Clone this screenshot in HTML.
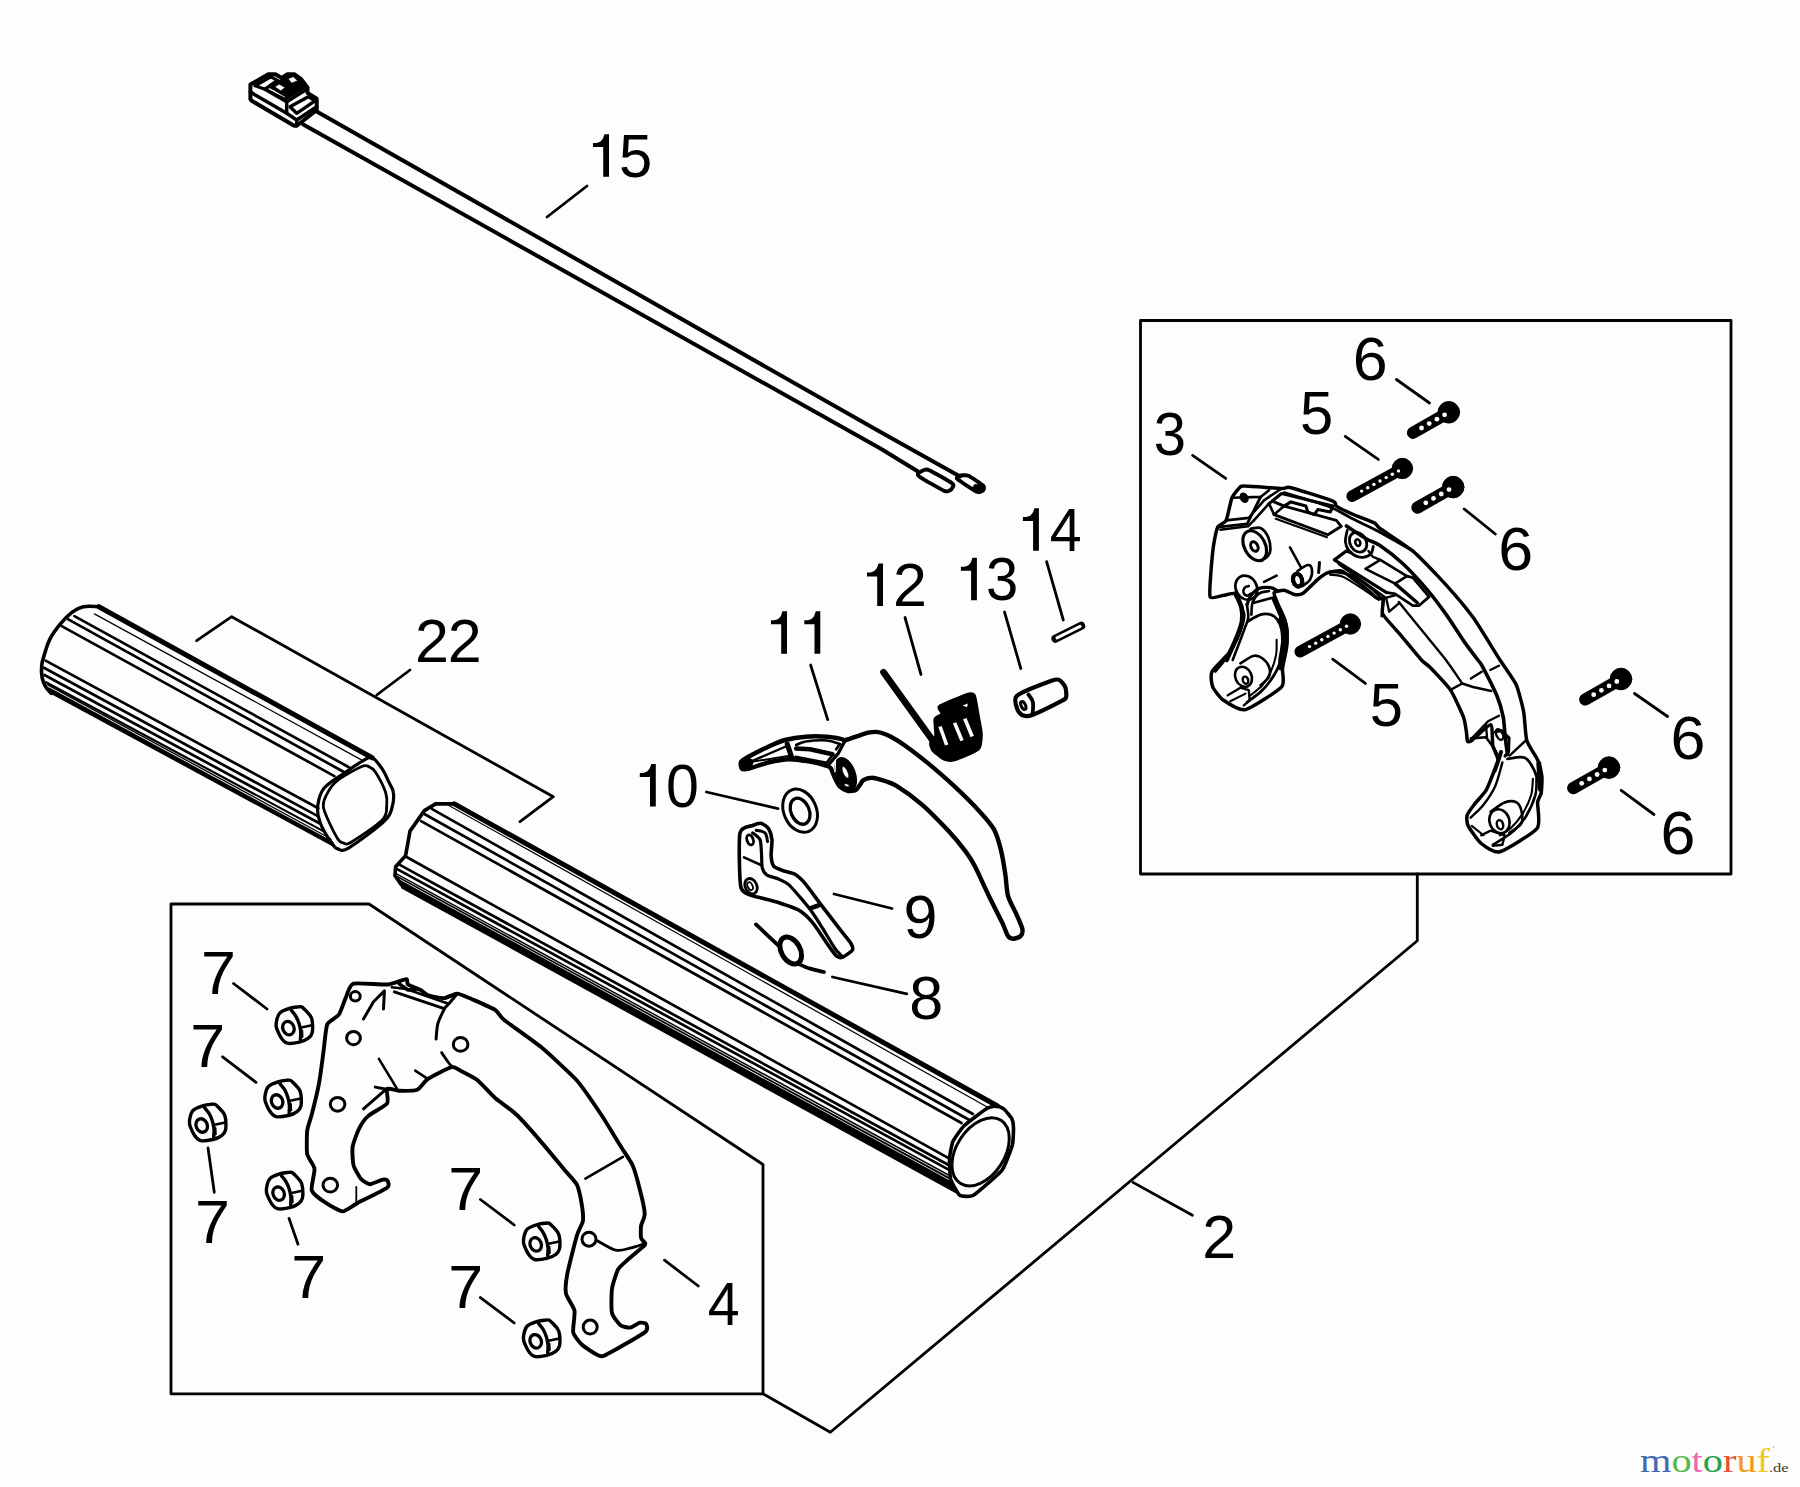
<!DOCTYPE html>
<html><head><meta charset="utf-8"><title>Parts diagram</title>
<style>
html,body{margin:0;padding:0;background:#fdfefc;}
body{width:1800px;height:1487px;overflow:hidden;position:relative;font-family:"Liberation Sans",sans-serif;}
svg{position:absolute;left:0;top:0;display:block;}
svg path,svg ellipse,svg circle{stroke:#000;stroke-linecap:round;stroke-linejoin:round;}
svg text{font-family:"Liberation Sans",sans-serif;fill:#000;stroke:none;}
.logo{position:absolute;font-family:"Liberation Serif",serif;}
</style></head><body>
<svg width="1800" height="1487" viewBox="0 0 1800 1487" fill="none">
<rect x="0" y="0" width="1800" height="1487" fill="#fdfefc" stroke="none"/>
<g id="frames">
<path d="M1140.5 320.5 L1731 320.5 L1731 874 L1140.5 874Z" stroke-width="2.8" fill="none" />
<path d="M171 904 L369 904 L763 1164.5 L763 1393.8 L171 1393.8Z" stroke-width="2.8" fill="none" />
<path d="M763 1393.8 L830.3 1432.3 L1417.3 940.8 L1417.3 874" stroke-width="2.8" fill="none" />
</g>
<g id="leaders">
<path d="M587 186 L547 217" stroke-width="2.8"/>
<path d="M1046.6 561.7 L1063.3 620" stroke-width="2.8"/>
<path d="M1004.5 612 L1020.8 668.5" stroke-width="2.8"/>
<path d="M905 617.5 L921 674.5" stroke-width="2.8"/>
<path d="M810.6 665 L827.7 719.6" stroke-width="2.8"/>
<path d="M706.4 792 L778 808.6" stroke-width="2.8"/>
<path d="M834 894 L892 908.5" stroke-width="2.8"/>
<path d="M832.4 977 L906.8 993.8" stroke-width="2.8"/>
<path d="M410 670 L376.7 695" stroke-width="2.8"/>
<path d="M1133 1182.4 L1192.4 1215.3" stroke-width="2.8"/>
<path d="M233.5 983.5 L267 1009" stroke-width="2.8"/>
<path d="M222.6 1056.8 L256 1082.3" stroke-width="2.8"/>
<path d="M208 1148 L214.3 1192.3" stroke-width="2.8"/>
<path d="M289 1218.4 L298 1244.2" stroke-width="2.8"/>
<path d="M480.4 1199.5 L514.2 1225" stroke-width="2.8"/>
<path d="M480.4 1297.6 L514.2 1323" stroke-width="2.8"/>
<path d="M664.5 1260.2 L698.3 1286" stroke-width="2.8"/>
<path d="M1192.6 455.4 L1225.7 478.4" stroke-width="2.8"/>
<path d="M1345.2 436.4 L1378.3 459.4" stroke-width="2.8"/>
<path d="M1396.4 379.5 L1429.5 403" stroke-width="2.8"/>
<path d="M1464.2 509 L1495.3 534" stroke-width="2.8"/>
<path d="M1332.7 659.2 L1365.4 683.4" stroke-width="2.8"/>
<path d="M1634.5 693.5 L1667.6 716.5" stroke-width="2.8"/>
<path d="M1621.2 790.3 L1654 814.5" stroke-width="2.8"/>
<path d="M196.7 640.7 L231.7 616.7 L553.3 796.7 L520 821.7" stroke-width="2.8" fill="none" />
</g>
<g id="labels" font-size="61">
<path d="M604.5 134.2 L609 134.2 L609 176.7 L603.2 176.7 L603.2 147.1 L593 147.1 L593 143.1 L596.5 143.1 L600.3 141.8 L602.9 138.8Z" fill="#000" style="stroke:none"/>
<text transform="translate(619.1 176.7) scale(0.98 1)">5</text>
<path d="M1034.4 508.2 L1038.9 508.2 L1038.9 550.7 L1033.1 550.7 L1033.1 521.1 L1022.9 521.1 L1022.9 517.1 L1026.4 517.1 L1030.2 515.8 L1032.8 512.8Z" fill="#000" style="stroke:none"/>
<text transform="translate(1049.8 550.7) scale(0.94 1)">4</text>
<path d="M972.4 557.8 L976.9 557.8 L976.9 600.3 L971.1 600.3 L971.1 570.7 L960.9 570.7 L960.9 566.7 L964.4 566.7 L968.2 565.4 L970.8 562.4Z" fill="#000" style="stroke:none"/>
<text transform="translate(986.1 600.3) scale(0.95 1)">3</text>
<path d="M878.5 563.5 L883 563.5 L883 606 L877.2 606 L877.2 576.4 L867 576.4 L867 572.4 L870.5 572.4 L874.3 571.1 L876.9 568.1Z" fill="#000" style="stroke:none"/>
<text transform="translate(893.1 606) scale(1.0 1)">2</text>
<path d="M782.5 611.3 L787 611.3 L787 653.8 L781.2 653.8 L781.2 624.2 L771 624.2 L771 620.2 L774.5 620.2 L778.3 618.9 L780.9 615.9Z" fill="#000" style="stroke:none"/>
<path d="M815.8 611.3 L820.3 611.3 L820.3 653.8 L814.5 653.8 L814.5 624.2 L804.3 624.2 L804.3 620.2 L807.8 620.2 L811.6 618.9 L814.2 615.9Z" fill="#000" style="stroke:none"/>
<path d="M651.3 764 L655.8 764 L655.8 806.5 L650 806.5 L650 776.9 L639.8 776.9 L639.8 772.9 L643.3 772.9 L647.1 771.6 L649.7 768.6Z" fill="#000" style="stroke:none"/>
<text transform="translate(666.1 806.5) scale(0.97 1)">0</text>
<text transform="translate(903.6 938) scale(1.0 1)">9</text>
<text transform="translate(909.3 1018.5) scale(1.0 1)">8</text>
<text transform="translate(414.9 662.2) scale(1.0 1)">2</text>
<text transform="translate(447.7 662.2) scale(1.0 1)">2</text>
<text transform="translate(1202.2 1258) scale(1.0 1)">2</text>
<text transform="translate(707.7 1325) scale(0.94 1)">4</text>
<text transform="translate(201.1 993.8) scale(1.03 1)">7</text>
<text transform="translate(190.2 1066.7) scale(1.03 1)">7</text>
<text transform="translate(195 1242.5) scale(1.03 1)">7</text>
<text transform="translate(291.2 1297.5) scale(1.03 1)">7</text>
<text transform="translate(448.2 1210.4) scale(1.03 1)">7</text>
<text transform="translate(448.2 1307.6) scale(1.03 1)">7</text>
<text transform="translate(1153.7 454.9) scale(0.95 1)">3</text>
<text transform="translate(1300.1 434) scale(0.98 1)">5</text>
<text transform="translate(1352.8 379.6) scale(1.03 1)">6</text>
<text transform="translate(1498.2 569.8) scale(1.03 1)">6</text>
<text transform="translate(1369.8 725.8) scale(0.98 1)">5</text>
<text transform="translate(1670.5 758.5) scale(1.03 1)">6</text>
<text transform="translate(1660.4 853.9) scale(1.03 1)">6</text>
</g>
<g id="tie">
<path d="M250.4 84.6 L268.3 74.2 L275.4 74.2 L281.7 77.9 L287.5 74.2 L294.2 74.2 L300.8 78.8 L307.5 87.5 L307.5 92.9 L316.7 98.8 L316.7 110 L296.7 125.8 L294.2 125.8 L251.7 100.8 L250.4 99.2Z" stroke-width="4" fill="#fdfefc" />
<path d="M255 85.8 L270.8 76.7 L277.5 80.4 L265 89.2Z" stroke-width="3.3" fill="none" />
<path d="M250.4 92.1 L286.7 113.3 L296.7 120" stroke-width="3.5" fill="none" />
<path d="M265 89.2 L286.7 101.7 L286.7 113.3" stroke-width="3.5" fill="none" />
<path d="M286.7 101.7 L306.7 89.2" stroke-width="3.5" fill="none" />
<path d="M268.3 90.8 L285 99.2 L305 86.7" stroke-width="2.9" fill="none" />
<path d="M290 106.7 L308.3 96.7 L315 100.8 L296.7 113.3Z" stroke-width="3.3" fill="none" />
<path d="M296.7 125.8 L296.7 120 L316.7 106.7" stroke-width="3.5" fill="none" />
<path d="M276.7 81.7 L283.3 77.9 L288.3 75 L295 75 L300.8 80 L305 86.7 L286.7 97.5 L274.2 90 L269.2 87.5Z" stroke-width="1" fill="#000" />
<path d="M275 86.7 L279.2 84.2 L285 87.5 L280.8 90.8Z" stroke-width="0.5" fill="#fdfefc" stroke="none"/>
<path d="M288.3 78.8 L293.3 76.7 L297.5 80.8 L291.7 82.9Z" stroke-width="0.5" fill="#fdfefc" stroke="none"/>
<path d="M316.7 111.5 L880 431.8 L960 476.5" stroke-width="4" fill="none" />
<path d="M303.3 124.5 L880 448.3 L918 471.5" stroke-width="4" fill="none" />
<path d="M917.9 473.8 C918.3 472.9 922 470.8 923.3 470.4 C924.6 470 925.8 468.7 929.2 470.2 C932.5 471.7 949.4 481.3 952.1 483.3 C954.8 485.4 952.7 487.1 952.3 487.9 C952 488.8 950.2 490.3 949.2 490.7 C948.2 491 947.1 492.2 943.8 490.7 C940.4 489.1 923.4 479.3 920.4 477.3 C917.4 475.4 917.6 474.6 917.9 473.8Z" stroke-width="3.9" fill="none" />
<path d="M959.2 475.8 C960.2 475.5 965.9 474.8 968.3 475.8 C970.7 476.8 981.7 484.2 983.2 485.7 C984.6 487.1 983.8 489.6 983.2 490.2 C982.5 490.8 979.2 492.8 976.7 491.7 C974.1 490.6 959.2 480.8 957.5 479.2 C955.8 477.6 958.1 476.2 959.2 475.8Z" stroke-width="3.9" fill="none" />
<path d="M975 484.6 L983.3 485.4 L983.8 491.2 L976.7 492.1 L972.5 488.3Z" stroke-width="1" fill="#000" />
</g>
<g id="tube1">
<path d="M98.9 606.7 C95.8 606.7 88.7 605.6 83.3 606.7 C78 607.8 76.9 608.7 72.2 612.2 C67.6 615.8 64.4 619.1 60 624.4 C55.6 629.8 53.1 632.9 50 638.9 C46.9 644.9 46.1 649.1 44.4 654.4 C42.8 659.8 42.1 660.9 41.7 665.6 C41.2 670.2 41.4 673.6 42.2 677.8 C43 682 43.8 683.6 45.6 686.7 C47.3 689.8 50 692 51.1 693.3" stroke-width="3.6" fill="none" />
<path d="M372.2 757.8 C369.1 756.4 367.8 758.1 363.3 760.6 C358.9 763 352 767.7 345.6 772.2 C339.1 776.8 329.1 782.2 324.4 787.8 C319.8 793.3 318.5 799.8 317.8 805.6 C317 811.3 317.8 816.1 320 822.2 C322.2 828.3 328.1 837.8 331.1 842.2 C334.1 846.7 334.8 848 337.8 848.9 C340.7 849.8 341.1 852.4 348.9 847.8 C356.7 843.1 377.2 828 384.4 821.1 C391.7 814.3 390.7 811.5 392.2 806.7 C393.7 801.9 393.9 796.3 393.3 792.2 C392.8 788.1 390.7 786.1 388.9 782.2 C387 778.3 385 773 382.2 768.9 C379.4 764.8 375.4 759.2 372.2 757.8Z" stroke-width="3.2" fill="none" />
<path d="M368.9 766.7 C366.5 765.7 366.5 764.3 361.1 766.7 C355.7 769.1 342.4 776.5 336.7 781.1 C330.9 785.7 328.9 790.4 326.7 794.4 C324.4 798.5 323.3 801.9 323.3 805.6 C323.3 809.3 324.3 811.1 326.7 816.7 C329.1 822.2 335 834.5 337.8 838.9 C340.6 843.2 341.1 842.2 343.3 842.8 C345.6 843.3 344.6 846 351.1 842.2 C357.6 838.4 376.3 826.1 382.2 820 C388.1 813.9 386.1 810.2 386.7 805.6 C387.2 800.9 387.4 797.8 385.6 792.2 C383.7 786.7 378.3 776.5 375.6 772.2 C372.8 768 371.3 767.6 368.9 766.7Z" stroke-width="2.8" fill="none" />
<path d="M98.9 606.7 L372.2 757.8" stroke-width="5"/>
<path d="M94.4 613.9 L362.8 760.6" stroke-width="1.2"/>
<path d="M74.4 616.1 L348.9 767.2" stroke-width="2.7"/>
<path d="M68.3 619.4 L343.9 772" stroke-width="2.7"/>
<path d="M61.7 626.1 L334.4 776.1" stroke-width="2.7"/>
<path d="M45.6 660.6 L318.3 808.3" stroke-width="2.7"/>
<path d="M43.9 667.8 L317.8 816.1" stroke-width="2.7"/>
<path d="M44.4 675 L319.4 823.3" stroke-width="2.7"/>
<path d="M46.1 682.2 L323.3 831.1" stroke-width="2.2"/>
<path d="M51.5 694.2 L337 848.8 L332.9 841.6 L48.1 686.7Z" fill="#000" style="stroke:none"/>
<path d="M47.5 685.4 L332.2 840.3 L331 838.2 L46.5 683.2Z" fill="#000" style="stroke:none"/>
</g>
<g id="tube2">
<path d="M454.4 803.9 L435.6 803.9 L424.4 810.6 L410 831.1 L405.6 855.6 L395.6 866.7 L395 875.6 L401.1 884.4" stroke-width="3.6" fill="none" />
<path d="M997.5 1106 C996.3 1105.9 989.7 1106.9 987.2 1108.3 C984.8 1109.7 966.9 1123 964.4 1125.5 C961.8 1127.9 954 1139 952.9 1141.5 C951.8 1143.9 949.7 1155.9 949.5 1158.6 C949.3 1161.4 949.9 1176.5 950.6 1179.2 C951.4 1181.9 958.1 1194.1 959.8 1195.2 C961.5 1196.4 970.4 1197.1 973.5 1195.2 C976.6 1193.4 999.2 1173.8 1002.1 1170.1 C1004.9 1166.4 1011.5 1148 1012.4 1144.9 C1013.2 1141.8 1013.6 1129.7 1013.5 1127.8 C1013.5 1125.8 1012.5 1120 1011.8 1118.6 C1011.1 1117.3 1005.4 1110.4 1004.4 1109.5 C1003.3 1108.5 998.8 1106.1 997.5 1106Z" stroke-width="3.6" fill="none" />
<ellipse cx="980.6" cy="1151.8" rx="24" ry="37.5" transform="rotate(33 980.6 1151.8)" stroke-width="3" fill="none"/>
<path d="M454.4 803.9 L997.5 1106" stroke-width="5"/>
<path d="M446.7 804.2 L987.2 1106.9" stroke-width="1.2"/>
<path d="M432.2 809.1 L972.9 1114" stroke-width="2.7"/>
<path d="M424.4 814 L968.9 1119.8" stroke-width="2.7"/>
<path d="M421.1 821.1 L961.5 1123" stroke-width="2.7"/>
<path d="M406.1 856.7 L949.5 1158.6" stroke-width="2.7"/>
<path d="M398.9 864.4 L949.5 1165.5" stroke-width="2.7"/>
<path d="M396.7 868.9 L949.5 1170.1" stroke-width="2.7"/>
<path d="M401.5 888.4 L957 1193.9 L953 1182.3 L398.1 878.7Z" fill="#000" style="stroke:none"/>
<path d="M397.8 877.8 L952.6 1181.2 L951.8 1178.6 L397 875.6Z" fill="#000" style="stroke:none"/>
<path d="M396.7 874.7 L951.4 1177.4 L950.6 1175.2 L396 872.8Z" fill="#000" style="stroke:none"/>
</g>
<g id="lever11">
<path d="M741.2 761.7 C742.5 759.8 748.1 757 751.7 755 C755.3 753 763.9 748.7 768.3 746.7 C772.8 744.7 780 741.3 785 740 C790 738.7 800.3 737.1 805.8 736.7 C811.4 736.2 822 736.4 826.7 736.7 C831.3 736.9 838.4 738.3 840.8 738.8 C843.3 739.2 843 740.4 845 740.2 C847 739.9 852.7 737.7 855.8 736.7 C858.9 735.7 865.3 733.3 868.3 732.7 C871.3 732.1 875.3 731.5 878.3 732.1 C881.3 732.6 887.3 734.9 890.9 736.7 C894.4 738.5 900 742 904.9 745.5 C909.8 749 920.8 757.4 927.6 762.9 C934.3 768.5 948.6 780.9 955.6 787.4 C962.6 794 974.9 806.3 980 811.9 C985.2 817.5 991.2 824.3 994 829.4 C996.8 834.5 999.5 844.3 1001 850.4 C1002.5 856.4 1004.5 868.8 1005.4 874.9 C1006.3 880.9 1006.5 890.5 1008 895.8 C1009.5 901.2 1014.9 910.6 1016.8 915.1 C1018.7 919.5 1021.8 926.3 1022.4 929.1 C1022.9 931.9 1021.8 934.8 1020.6 936.1 C1019.4 937.3 1014.9 938.7 1013.3 938.7 C1011.6 938.7 1009.4 938 1008 936.1 C1006.6 934.1 1005.3 929.2 1002.8 923.8 C1000.2 918.5 992.5 903.5 988.8 895.8 C985.1 888.1 977.8 871.9 974.8 866.1 C971.8 860.3 969.6 856.8 966.1 852.1 C962.6 847.5 954.4 837.4 948.6 831.1 C942.7 824.8 929.3 811 922.3 804.9 C915.3 798.9 901.7 789.1 896.1 785.7 C890.5 782.3 883.6 780.6 880.4 779.6 C877.1 778.5 873.9 777.6 871.7 777.7 C869.4 777.7 864.8 779.3 863.3 780.2 C861.8 781 861.4 782.9 860.4 784.2 C859.4 785.5 857.6 789.1 855.8 790 C854.1 790.9 849.6 791.3 847.5 790.8 C845.4 790.4 841.7 788.3 840 786.7 C838.3 785 836.2 780.8 835 778.3 C833.8 775.9 831.9 770 830.8 768.3 C829.7 766.7 829.4 766.7 826.7 765.8 C823.9 764.9 815.1 762.6 810 761.7 C804.9 760.8 793.9 759.1 788.3 759.2 C782.8 759.3 773.6 761.3 768.3 762.5 C763.1 763.7 752.7 767.7 749.2 768.5 C745.7 769.3 743.1 769.7 742.1 768.8 C741 767.8 740 763.5 741.2 761.7Z" stroke-width="4.4" fill="#fdfefc" />
<path d="M740.8 762.9 L747.5 757.9 L752.9 760.8 L750.8 767.9 L742.1 769.2Z" stroke-width="2" fill="#000" />
<path d="M752.1 761 L785.8 746.5" stroke-width="2.4" fill="none" />
<path d="M752.1 761.7 L788.3 756" stroke-width="2" fill="none" />
<path d="M787.3 744.2 L791.8 757.7" stroke-width="5.2" fill="none" />
<path d="M796.2 745 C797.8 744.4 800.8 742.2 805.8 741.5 C810.9 740.8 821 740.1 826.7 740.5 C832.3 740.9 837.6 743.4 839.8 744" stroke-width="2.6" fill="none" />
<path d="M796.2 748.5 L810 749.2 L832.5 754.3" stroke-width="4.6" fill="none" />
<path d="M839.8 744 L836.2 749.3" stroke-width="2.6" fill="none" />
<path d="M795.4 756.7 L826.7 762.7 L832.7 754.8" stroke-width="2.6" fill="none" />
<path d="M845.2 740.2 L838.3 753.3 L829.6 763.5" stroke-width="3.4" fill="none" />
<ellipse cx="845.7" cy="774.2" rx="9.4" ry="17.2" transform="rotate(-20 845.7 774.2)" stroke-width="1.5" fill="#000"/>
<ellipse cx="845.4" cy="772.3" rx="2.3" ry="6.2" transform="rotate(-24 845.4 772.3)" stroke-width="0.5" fill="#fdfefc"/>
<ellipse cx="846.8" cy="785.3" rx="2.6" ry="1.3" transform="rotate(20 846.8 785.3)" stroke-width="0.5" fill="#fdfefc"/>
<path d="M835.4 760 L835 771.7" stroke-width="1.4" fill="none" style="stroke:#fdfefc"/>
</g>
<g id="washer10">
<ellipse cx="800.1" cy="810.7" rx="16.3" ry="22.4" transform="rotate(-23 800.1 810.7)" stroke-width="3" fill="none"/>
<ellipse cx="800.1" cy="811.2" rx="9.1" ry="13.6" transform="rotate(-23 800.1 811.2)" stroke-width="3.3" fill="none"/>
</g>
<g id="bracket9">
<path d="M740 832.9 C741.4 825.9 750.2 826.6 752.7 825.5 C755.2 824.4 759.6 823 761.5 823.4 C763.4 823.9 767.6 827.1 768.8 829 C770 831 771.7 836.8 772 839.9 C772.2 843 770.9 852.6 771.1 855.6 C771.3 858.7 772.4 864.4 773.7 866.1 C775 867.8 780 869.6 782.5 870.5 C784.9 871.4 792 872.5 794.7 874 C797.3 875.5 802.1 880 805.2 883.6 C808.2 887.2 817 899.5 820.9 904.6 C824.8 909.7 834.9 922.8 838.4 927.3 C841.9 931.8 849 940.4 850.7 943 C852.3 945.7 853.3 948.4 852.4 950 C851.5 951.7 844.6 956.3 842.8 957 C840.9 957.8 838.4 957.6 836.7 956.2 C834.9 954.7 830.8 948.8 827.9 944.8 C825.1 940.8 815.7 926.1 812.2 922.1 C808.7 918 802.1 912.1 798.2 909.8 C794.3 907.6 783.4 904.3 779 902.8 C774.5 901.4 763.4 898.6 759.7 897.6 C756.1 896.6 749.7 895.5 747.5 894.1 C745.2 892.7 741.4 892.5 740.5 885.3 C739.6 878.2 738.5 839.9 740 832.9Z" stroke-width="3.6" fill="#fdfefc" />
<path d="M752.7 832.9 C753.7 833.8 758.9 837.1 760.1 839.9 C761.2 842.7 761.2 850.1 761.5 853.9 C761.8 857.6 761.6 865.1 762.3 867.9 C763 870.7 764.5 873.3 766.7 874.9 C768.9 876.4 775.9 877.8 779 879.2 C782 880.6 786.2 882.4 789.5 885.3 C792.7 888.3 800.6 897.8 803.4 901.1 C806.2 904.3 808.1 906.6 810.4 909.8 C812.8 913.1 817.7 920.4 820.9 925.6 C824.2 930.7 832.1 944.2 834.9 948.3 C837.7 952.4 841 955.1 841.9 956.2" stroke-width="3.2" fill="none" />
<path d="M744 857.4 L761.5 865.2" stroke-width="2.6" fill="none" />
<path d="M756.2 830.3 C757.7 830.7 763.1 831 765 832.9 C766.9 834.8 767.2 840.2 767.6 841.6" stroke-width="3" fill="none" />
<ellipse cx="750.1" cy="839.9" rx="3.1" ry="5.2" transform="rotate(-20 750.1 839.9)" stroke-width="2.8" fill="none"/>
<ellipse cx="751" cy="886.2" rx="5.8" ry="8" transform="rotate(-25 751 886.2)" stroke-width="2.8" fill="none"/>
<ellipse cx="750.1" cy="886.2" rx="2.4" ry="4.2" transform="rotate(-25 750.1 886.2)" stroke-width="1.8" fill="none"/>
<path d="M810.8 908.1 L818.3 905.5" stroke-width="4.5" fill="none" />
</g>
<g id="clip8">
<path d="M756 924.4 L778.2 945.3" stroke-width="3.8" fill="none" />
<ellipse cx="790.7" cy="950.5" rx="9.4" ry="14.5" transform="rotate(-30 790.7 950.5)" stroke-width="5" fill="none"/>
<path d="M796.9 963.3 C799 964.1 804.8 967 809.3 968.4 C813.9 969.9 821.6 971.4 824 972" stroke-width="3.8" fill="none" />
</g>
<g id="spring12">
<path d="M883.5 672.3 L933.8 742" stroke-width="6.6" fill="none" />
<path d="M939 706.1 C941.6 704.1 963.5 695 967.1 693.9 C970.7 692.8 973.6 693.1 974.8 695.2 C975.9 697.3 977.9 711.1 978.6 715 C979.3 718.9 981.8 730.7 981.8 734.2 C981.8 737.6 981.4 746.9 978.6 749.5 C975.9 752.1 957.8 759.3 954.3 760.4 C950.9 761.4 946.3 760.7 944.1 759.7 C941.9 758.8 934 752.4 932.6 750.8 C931.2 749.1 929.8 744.6 930.1 743.1 C930.3 741.6 934.7 737.9 935.2 735.4 C935.6 733 933.9 721 934.5 718.8 C935.2 716.7 941.1 715 941.6 713.7 C942 712.4 936.4 708 939 706.1Z" stroke-width="2" fill="#000" />
<path d="M940 726.5 L946.7 745" stroke-width="3.6" style="stroke:#fdfefc;stroke-linecap:butt"/>
<path d="M954.6 722.9 L962 740.6" stroke-width="3.6" style="stroke:#fdfefc;stroke-linecap:butt"/>
<path d="M964.8 718.6 L972.2 736.5" stroke-width="3.6" style="stroke:#fdfefc;stroke-linecap:butt"/>
<path d="M962.6 705.4 L967.8 703.5 L967.1 707.3Z" stroke-width="0.5" fill="#fdfefc" style="stroke:none"/>
</g>
<g id="cyl13">
<path d="M1016.9 695.8 C1020.9 692.4 1046.5 682.6 1051.4 680.8 C1056.4 678.9 1057.5 679.1 1059.1 679.9 C1060.7 680.6 1064.4 684.9 1065.2 686.9 C1066.1 688.9 1066.6 695.5 1066.1 697.1 C1065.7 698.8 1065.6 698.9 1061.7 700.9 C1057.7 703 1036.8 713.3 1032.3 715 C1027.8 716.7 1025 716.2 1023.3 715.6 C1021.6 715 1018.3 712.2 1017.6 709.9 C1016.8 707.6 1013 699.2 1016.9 695.8Z" stroke-width="4.2" fill="#fdfefc" />
<path d="M1028.4 694.6 C1029.3 696.1 1032.1 698.3 1032.9 702.2 C1033.7 706.2 1032.6 711.9 1032.5 714.4" stroke-width="3.8" fill="none" />
<ellipse cx="1023.3" cy="705.5" rx="2.2" ry="4.2" transform="rotate(-25 1023.3 705.5)" stroke-width="3" fill="none"/>
</g>
<g id="pin14">
<path d="M1055.5 638.6 L1081.1 625.8" stroke-width="8.2"/>
<path d="M1057 637.9 L1080.1 626.3" stroke-width="3" style="stroke:#fdfefc"/>
</g>
<g id="screws">
<path d="M1413 432.8 L1448 412.9" stroke-width="12.2"/>
<circle cx="1448.8" cy="412.3" r="10.8" fill="#000" stroke-width="1"/>
<circle cx="1421.5" cy="428" r="2.4" fill="#fdfefc" style="stroke:none"/>
<circle cx="1429.2" cy="423.6" r="2.4" fill="#fdfefc" style="stroke:none"/>
<circle cx="1436.9" cy="419.2" r="2.4" fill="#fdfefc" style="stroke:none"/>
<circle cx="1444.6" cy="414.8" r="2.4" fill="#fdfefc" style="stroke:none"/>
<path d="M1352.2 496.2 L1401.6 469.1" stroke-width="11.6"/>
<circle cx="1402.4" cy="468.5" r="10.2" fill="#000" stroke-width="1"/>
<circle cx="1361.6" cy="491.1" r="1.7" fill="#fdfefc" style="stroke:none"/>
<circle cx="1367.7" cy="487.8" r="1.7" fill="#fdfefc" style="stroke:none"/>
<circle cx="1373.9" cy="484.4" r="1.7" fill="#fdfefc" style="stroke:none"/>
<circle cx="1380" cy="481" r="1.7" fill="#fdfefc" style="stroke:none"/>
<circle cx="1386.2" cy="477.6" r="1.7" fill="#fdfefc" style="stroke:none"/>
<circle cx="1392.3" cy="474.2" r="1.7" fill="#fdfefc" style="stroke:none"/>
<circle cx="1398.5" cy="470.9" r="1.7" fill="#fdfefc" style="stroke:none"/>
<path d="M1417.4 507.6 L1452.4 487.7" stroke-width="12.2"/>
<circle cx="1453.2" cy="487.1" r="10.8" fill="#000" stroke-width="1"/>
<circle cx="1425.8" cy="502.8" r="2.4" fill="#fdfefc" style="stroke:none"/>
<circle cx="1433.5" cy="498.4" r="2.4" fill="#fdfefc" style="stroke:none"/>
<circle cx="1441.3" cy="494" r="2.4" fill="#fdfefc" style="stroke:none"/>
<circle cx="1449" cy="489.6" r="2.4" fill="#fdfefc" style="stroke:none"/>
<path d="M1300.2 651.7 L1349.6 624.6" stroke-width="11.6"/>
<circle cx="1350.4" cy="624" r="10.2" fill="#000" stroke-width="1"/>
<circle cx="1309.5" cy="646.6" r="1.7" fill="#fdfefc" style="stroke:none"/>
<circle cx="1315.7" cy="643.2" r="1.7" fill="#fdfefc" style="stroke:none"/>
<circle cx="1321.8" cy="639.8" r="1.7" fill="#fdfefc" style="stroke:none"/>
<circle cx="1328" cy="636.5" r="1.7" fill="#fdfefc" style="stroke:none"/>
<circle cx="1334.1" cy="633.1" r="1.7" fill="#fdfefc" style="stroke:none"/>
<circle cx="1340.3" cy="629.7" r="1.7" fill="#fdfefc" style="stroke:none"/>
<circle cx="1346.5" cy="626.3" r="1.7" fill="#fdfefc" style="stroke:none"/>
<path d="M1585.2 699.5 L1620.2 679.6" stroke-width="12.2"/>
<circle cx="1621" cy="679" r="10.8" fill="#000" stroke-width="1"/>
<circle cx="1593.7" cy="694.7" r="2.4" fill="#fdfefc" style="stroke:none"/>
<circle cx="1601.4" cy="690.3" r="2.4" fill="#fdfefc" style="stroke:none"/>
<circle cx="1609.1" cy="685.9" r="2.4" fill="#fdfefc" style="stroke:none"/>
<circle cx="1616.8" cy="681.5" r="2.4" fill="#fdfefc" style="stroke:none"/>
<path d="M1573.2 788.1 L1608.2 768.2" stroke-width="12.2"/>
<circle cx="1609" cy="767.6" r="10.8" fill="#000" stroke-width="1"/>
<circle cx="1581.7" cy="783.3" r="2.4" fill="#fdfefc" style="stroke:none"/>
<circle cx="1589.4" cy="778.9" r="2.4" fill="#fdfefc" style="stroke:none"/>
<circle cx="1597.1" cy="774.5" r="2.4" fill="#fdfefc" style="stroke:none"/>
<circle cx="1604.8" cy="770.1" r="2.4" fill="#fdfefc" style="stroke:none"/>
</g>
<g id="handle3">
<path d="M1240.4 486.8 C1241.8 485.6 1241.4 485.8 1245.5 486 C1249.6 486.1 1277.1 488.3 1281.6 488.5 C1286.2 488.7 1285.7 486.4 1290.9 487.7 C1296 488.9 1328.4 499.3 1332.9 501.1 C1337.4 503 1334.3 504.9 1336.3 506.1 C1338.2 507.4 1348.4 512.3 1352.2 514 C1356 515.7 1371.6 521.5 1374.4 522.9 C1377.2 524.3 1376.1 525.7 1380 528.5 C1383.9 531.3 1407.3 546.4 1412.9 551.1 C1418.6 555.7 1432.2 570.2 1436.5 574.6 C1440.7 579 1451.5 590.9 1455.3 595.3 C1459.1 599.7 1469.6 612.4 1474.1 618.8 C1478.6 625.3 1495.8 653.4 1500 660 C1504.2 666.5 1513.7 679.4 1516.1 684.6 C1518.4 689.7 1522.5 705.9 1523.6 711.5 C1524.7 717.1 1525.4 735.7 1526.8 740.5 C1528.2 745.4 1536.1 756.3 1537.6 759.9 C1539.1 763.5 1541.5 773.2 1541.9 776.5 C1542.2 779.8 1541.6 790.4 1541.2 792.9 C1540.8 795.5 1538 798.8 1537.6 802.4 C1537.2 805.9 1540.9 823.3 1537.2 828.2 C1533.4 833.2 1505.6 850.2 1500 851.8 C1494.4 853.3 1484.4 846.1 1481.2 843.5 C1478 840.9 1469.6 828.7 1468.2 825.9 C1466.8 823.1 1466.5 817.4 1467.1 815.3 C1467.6 813.2 1472.2 807.2 1474.1 804.7 C1476 802.2 1484 793.6 1485.9 790.6 C1487.8 787.5 1491.7 777.2 1492.9 774.1 C1494.2 771.1 1498.1 762.8 1498.1 760 C1498.1 757.2 1493.7 749.4 1492.9 745.9 C1492.1 742.4 1492.7 725.2 1490.6 724.7 C1488.5 724.2 1474.1 738.9 1471.8 740.5 C1469.5 742.1 1468 742.1 1467.5 741.2 C1467 740.3 1466.8 734.2 1466.4 731.8 C1466 729.4 1465 721 1463.4 716.8 C1461.8 712.6 1453.7 694.9 1450.4 689.9 C1447.1 684.9 1432.9 670.3 1430 667.3 C1427.1 664.3 1424.5 663.4 1421.4 660 C1418.3 656.6 1402.7 637.5 1398.8 632.9 C1394.9 628.3 1384.3 617.4 1382.8 614.1 C1381.2 610.8 1383.9 601.1 1383.3 599.5 C1382.7 597.9 1378.5 599 1376.6 597.8 C1374.8 596.6 1367.4 589.7 1364.8 587.7 C1362.3 585.7 1353.8 579.3 1351.4 577.6 C1349 575.9 1343.7 571.4 1341.3 570.9 C1339 570.4 1330.2 571.7 1327.9 572.6 C1325.5 573.4 1320.3 577.2 1317.8 579.3 C1315.3 581.4 1305 592.1 1302.6 593.6 C1300.3 595.1 1296.1 594.7 1294.2 594.4 C1292.4 594.1 1286.2 590.4 1284.1 590.2 C1282.1 590 1274.7 591.5 1274.1 592.7 C1273.4 594 1276.4 600.3 1277.4 602.8 C1278.4 605.3 1283.2 615.3 1284.1 617.9 C1285.1 620.6 1286.4 626.9 1286.7 629.7 C1286.9 632.6 1287.1 642.7 1286.7 646.5 C1286.3 650.4 1283 664.4 1282.5 668.4 C1282 672.4 1285.3 682.8 1281.6 686.9 C1277.9 691 1251.3 708.2 1245.5 709.6 C1239.7 710.9 1226.9 702.6 1223.6 700.3 C1220.3 698.1 1213.9 689.7 1212.7 686.9 C1211.5 684 1210.3 675.1 1211.9 671.7 C1213.5 668.4 1226.1 656.6 1228.7 653.3 C1231.2 649.9 1235.7 641 1237.1 638.1 C1238.4 635.3 1241.4 627 1242.1 624.7 C1242.8 622.3 1244.1 616.8 1243.8 614.6 C1243.5 612.4 1240.4 604.9 1239.6 602.8 C1238.8 600.7 1237 594.3 1235.4 593.6 C1233.8 592.8 1226.1 594.9 1223.6 595.3 C1221.1 595.6 1211.4 599.4 1210.2 596.9 C1208.9 594.5 1210.7 576 1211 570.9 C1211.4 565.7 1212.9 550 1213.5 545.7 C1214.2 541.3 1216.5 529.7 1217.7 527.2 C1219 524.6 1224.7 523.4 1226.1 520.4 C1227.6 517.5 1230.6 501.1 1232 497.7 C1233.5 494.4 1239.1 488 1240.4 486.8Z" stroke-width="3.5" fill="#fdfefc" />
<path d="M1284.1 492.7 C1289.9 494.5 1318.8 502.7 1327.9 506.1 C1337 509.5 1345.1 515 1352 518.5 C1358.9 522 1371.9 527.9 1380 532.2 C1388.1 536.5 1408.6 548.5 1413 551" stroke-width="2.8" fill="none" />
<path d="M1346.4 526 C1349.1 527.8 1362.5 536.6 1367 539.2 C1371.5 541.8 1375.1 542.1 1380 545.4 C1384.9 548.7 1397.2 558.3 1403.5 564.2 C1409.8 570.1 1421.4 582.9 1427.1 589.6 C1432.8 596.3 1440.9 607.1 1445.9 614.1 C1450.9 621.1 1460.4 636.3 1464.7 642.4 C1469 648.5 1475.6 657 1477.9 660 C1480.2 663 1479.2 660.5 1481.7 665.2 C1484.2 669.9 1493.8 688.4 1496.7 695.3 C1499.6 702.2 1502.1 711.1 1503.2 716.8 C1504.3 722.5 1504.7 733.4 1505.3 738.4 C1505.9 743.4 1507.2 752.4 1507.5 754.5" stroke-width="3.6" fill="none" />
<path d="M1398.8 601.9 C1401.9 605.8 1416.1 623.4 1422.4 631.1 C1428.7 638.8 1440.6 653 1445.9 660 C1451.2 667 1460.1 680.4 1462.3 683.5" stroke-width="2.4" fill="none" />
<path d="M1450.4 689.9 L1462.3 683.5 L1473 687 L1491.3 691" stroke-width="2.4" fill="none" />
<path d="M1470.9 678.6 L1481.7 671.7" stroke-width="2.4" fill="none" />
<path d="M1490.3 670 L1498.9 665.7" stroke-width="2.4" fill="none" />
<path d="M1470.9 739.4 L1488.1 721.2 L1498.9 715.8" stroke-width="2.4" fill="none" />
<path d="M1470.9 738.4 L1486 737.3 L1494.6 749.1 L1498.9 757.7" stroke-width="2.6" fill="none" />
<path d="M1486 725 L1487 737.3" stroke-width="2.4" fill="none" />
<ellipse cx="1499.5" cy="734.5" rx="3.2" ry="5.6" transform="rotate(-25 1499.5 734.5)" stroke-width="2.4" fill="none"/>
<path d="M1495.5 732 L1501 730.5 L1509 738 L1508.5 752 L1505 756" stroke-width="3.1" fill="none" />
<path d="M1525.8 740.5 L1509.6 755.6" stroke-width="2.4" fill="none" />
<path d="M1507.5 758.8 C1510.4 758.6 1520.4 756.1 1524.7 757.7 C1529 759.3 1531.2 764.8 1533.3 768.5 C1535.4 772.2 1536.9 778.1 1537.6 780" stroke-width="2.8" fill="none" />
<path d="M1501 752 L1498.9 758.8 L1494.6 770.7" stroke-width="4" fill="none" />
<path d="M1350.7 552.5 L1346.3 551 L1334.4 559.9 L1386.2 592.4" stroke-width="3.3" fill="none" />
<path d="M1338.9 564.3 L1384.7 596.9" stroke-width="2.4" fill="none" />
<path d="M1365.5 568.8 L1380.3 559.9 L1406.9 576.2 L1395.1 583.6Z" stroke-width="2.6" fill="none" />
<path d="M1380.3 559.9 L1372.9 556.9 L1368.5 551" stroke-width="2.4" fill="none" />
<path d="M1406.9 576.2 L1412.8 577.6 L1429.1 596.9 L1418.8 605.7 L1412.8 605.7 L1395.1 593.9 L1386.2 592.4" stroke-width="2.8" fill="none" />
<path d="M1395.1 583.6 L1417.3 602.8" stroke-width="3.5" fill="none" />
<path d="M1330 571.7 C1332.6 572.1 1344.1 572.7 1349.2 574.7 C1354.3 576.7 1364.2 583.4 1368.5 586.5 C1372.8 589.6 1380 596.7 1381.8 598.3" stroke-width="2.4" fill="none" />
<path d="M1330 574.7 C1332 575.1 1338.3 574.3 1344.8 577.6 C1351.3 580.9 1374.3 596.8 1378.8 599.8" stroke-width="2.1" fill="none" />
<path d="M1383.3 598.3 L1381.8 616.1" stroke-width="2.8" fill="none" />
<path d="M1386.2 598.3 L1389.2 611.7 L1399.5 602.8" stroke-width="2.4" fill="none" />
<path d="M1383.3 598.3 L1395.1 595.4" stroke-width="2.4" fill="none" />
<path d="M1502.4 762.4 C1501.2 766.3 1498.4 778.8 1495.3 785.9 C1492.2 792.9 1487.6 799.4 1483.5 804.7 C1479.4 810 1472.7 815.5 1470.6 817.6" stroke-width="2.4" fill="none" />
<path d="M1536.5 778.8 C1536.3 781.6 1537.1 789 1535.3 795.3 C1533.5 801.6 1529.4 810.6 1525.9 816.5 C1522.4 822.4 1518 826.9 1514.1 830.6 C1510.2 834.3 1505.9 836.5 1502.4 838.8 C1498.8 841.2 1494.5 843.7 1492.9 844.7" stroke-width="2.6" fill="none" />
<path d="M1532.9 778.8 C1532.6 781.6 1532.8 789.4 1531.1 795.3 C1529.3 801.2 1525.8 808.6 1522.4 814.1 C1518.9 819.6 1514.3 824.7 1510.6 828.2 C1506.9 831.8 1501.8 834.1 1500 835.3" stroke-width="2.1" fill="none" />
<path d="M1538.8 764.7 L1540 788.2" stroke-width="3.5" fill="none" />
<path d="M1490.6 811.8 C1492.9 810.2 1500.4 803.9 1504.7 802.4 C1509 800.8 1513.6 800.8 1516.5 802.4 C1519.3 803.9 1520.9 808.2 1521.6 811.8 C1522.4 815.3 1523.2 820 1521.2 823.5 C1519.1 827.1 1511.4 831.4 1509.4 832.9" stroke-width="2.6" fill="none" />
<ellipse cx="1499.5" cy="821.2" rx="9.9" ry="12.2" transform="rotate(-20 1499.5 821.2)" stroke-width="2.6" fill="none"/>
<ellipse cx="1500" cy="824.7" rx="3.1" ry="4.7" transform="rotate(-15 1500 824.7)" stroke-width="2.4" fill="none"/>
<path d="M1481.2 835.3 L1490.6 830.6 L1504.7 835.3 L1502.4 844.7 L1492.9 845.9" stroke-width="2.4" fill="none" />
<path d="M1471.8 825.9 L1483.5 835.3" stroke-width="2.1" fill="none" />
<path d="M1232 497.7 L1260.6 496.9 L1269 490.2" stroke-width="2.6" fill="none" />
<path d="M1217.7 527.2 L1247.2 523.8 L1260.6 496.9" stroke-width="2.8" fill="none" />
<path d="M1226.1 520.4 L1248.8 517.9 L1264 500.3 L1281.6 488.5" stroke-width="2.6" fill="none" />
<path d="M1220.3 529.7 L1248 526.3 L1253.9 520.4" stroke-width="2.4" fill="none" />
<ellipse cx="1244.1" cy="497.7" rx="2.4" ry="3.7" transform="rotate(-30 1244.1 497.7)" stroke-width="3.2" fill="none"/>
<path d="M1269 503.6 L1281.6 493.5 L1332.9 506.1 L1330.4 512 L1317.8 509.5 L1314.4 514.6 L1307.7 512 L1306 506.1 L1290.9 501.9 L1284.1 506.1 L1274.1 501.9" stroke-width="3.1" fill="none" />
<path d="M1274.1 514.6 L1284.1 506.1" stroke-width="2.6" fill="none" />
<path d="M1274.1 514.6 L1327.9 534.7 L1341.3 526.3 L1336.3 520.4 L1284.1 506.1" stroke-width="2.8" fill="none" />
<path d="M1275.7 518.8 L1327 537.2" stroke-width="2.1" fill="none" />
<path d="M1253.9 520.4 L1269 503.6 L1274.1 514.6" stroke-width="2.6" fill="none" />
<ellipse cx="1254.7" cy="545.7" rx="10.4" ry="16" transform="rotate(-28 1254.7 545.7)" stroke-width="3.1" fill="none"/>
<path d="M1250.5 528.8 C1252.2 528.7 1257.7 526.6 1260.6 528 C1263.6 529.4 1266.6 533.7 1268.2 537.2 C1269.8 540.8 1270.4 545.9 1270.4 549 C1270.4 552.1 1269.7 553.8 1268.2 555.7 C1266.7 557.7 1262.6 559.9 1261.5 560.8" stroke-width="2.8" fill="none" />
<ellipse cx="1254.4" cy="546.5" rx="3.4" ry="5" transform="rotate(-25 1254.4 546.5)" stroke-width="3" fill="none"/>
<ellipse cx="1358.1" cy="542.3" rx="8.1" ry="10.4" transform="rotate(-30 1358.1 542.3)" stroke-width="2.8" fill="none"/>
<path d="M1347.2 530.5 C1346.9 532.5 1345 538.7 1345.5 542.3 C1346.1 545.9 1347.9 549.9 1350.6 552.4 C1353.2 554.9 1358.1 557.1 1361.5 557.4 C1364.8 557.7 1368.8 555.9 1370.7 554.1 C1372.7 552.2 1372.8 547.8 1373.3 546.5" stroke-width="2.8" fill="none" />
<ellipse cx="1357.8" cy="542.6" rx="2.4" ry="3.4" transform="rotate(-20 1357.8 542.6)" stroke-width="2.6" fill="none"/>
<path d="M1290 547.3 L1301 567.5" stroke-width="2.6" fill="none" />
<ellipse cx="1297.6" cy="580.1" rx="4.7" ry="6.7" transform="rotate(-15 1297.6 580.1)" stroke-width="3.5" fill="none"/>
<path d="M1297.6 570.9 C1299.3 569.9 1305.3 565.3 1307.7 565 C1310.1 564.7 1311.5 566.8 1311.9 569.2 C1312.3 571.6 1311.7 576.5 1310.2 579.3 C1308.7 582.1 1303.9 584.9 1302.6 586" stroke-width="2.6" fill="none" />
<path d="M1319.5 562.5 L1318.6 572.6" stroke-width="3" fill="none" />
<path d="M1264 581.8 L1276.6 575.6" stroke-width="2.6" fill="none" />
<ellipse cx="1246.3" cy="587.7" rx="10.4" ry="12.6" transform="rotate(-30 1246.3 587.7)" stroke-width="2.6" fill="none"/>
<path d="M1248.8 586 C1248 586.3 1245.7 586.3 1244.6 587.7 C1243.6 589 1243 591.1 1243.5 592.7 C1244 594.3 1245.7 595.6 1247.2 595.8 C1248.6 595.9 1250.1 594 1250.9 593.6" stroke-width="2.6" fill="none" />
<path d="M1247.2 604.5 C1247.7 603.1 1248.6 598.8 1250.5 596.1 C1252.5 593.4 1255.6 589.9 1258.9 588.5 C1262.3 587.1 1267.6 587.3 1270.7 587.7 C1273.8 588.1 1276.3 590.5 1277.4 591" stroke-width="3.3" fill="none" />
<path d="M1251.4 614.6 C1251.6 612.6 1251.3 606.3 1252.5 602.8 C1253.8 599.3 1256.2 595.5 1258.9 593.6 C1261.7 591.6 1267.3 591.5 1269 591" stroke-width="2.6" fill="none" />
<path d="M1253.9 602.8 L1272.4 597.8" stroke-width="2.6" fill="none" />
<path d="M1248 621.3 C1250.1 620.2 1256.8 615.7 1260.6 614.6 C1264.4 613.5 1267.9 613.7 1270.7 614.6 C1273.5 615.4 1275.6 617.1 1277.4 619.6 C1279.2 622.2 1280.8 625.2 1281.6 629.7 C1282.4 634.2 1282.6 640.6 1282.1 646.5 C1281.7 652.4 1281 659.4 1279.1 665 C1277.2 670.6 1273.8 675.7 1270.7 680.2 C1267.6 684.6 1264.5 688.3 1260.6 691.9 C1256.7 695.6 1249.4 700.3 1247.2 702" stroke-width="2.8" fill="none" />
<path d="M1243.8 616.3 C1243.2 618.8 1242.1 626.4 1240.4 631.4 C1238.8 636.4 1236.5 641.5 1233.7 646.5 C1230.9 651.6 1226.7 657.5 1223.6 661.7 C1220.5 665.9 1216.6 670.1 1215.2 671.7" stroke-width="2.4" fill="none" />
<path d="M1284.1 619.6 L1286.2 631.4 L1285.8 644.8" stroke-width="4" fill="none" />
<path d="M1276.6 639.8 C1276.5 642.3 1277.1 649.6 1276.1 654.9 C1275.1 660.3 1273 666.7 1270.7 671.7 C1268.4 676.8 1265.7 681.3 1262.3 685.2 C1258.9 689.1 1252.5 693.6 1250.5 695.3" stroke-width="2.1" fill="none" />
<path d="M1240.4 663.3 C1242.7 662.1 1250.2 656.6 1253.9 655.8 C1257.5 654.9 1259.8 656.5 1262.3 658.3 C1264.8 660.1 1267.9 663.6 1269 666.7 C1270.1 669.8 1270.4 673.7 1269 676.8 C1267.6 679.9 1262 683.8 1260.6 685.2" stroke-width="2.6" fill="none" />
<ellipse cx="1243.5" cy="676.8" rx="8.1" ry="10.4" transform="rotate(-25 1243.5 676.8)" stroke-width="2.6" fill="none"/>
<ellipse cx="1245.5" cy="680.2" rx="2.7" ry="3.7" transform="rotate(-20 1245.5 680.2)" stroke-width="2.4" fill="none"/>
<path d="M1227.8 695.3 L1240.4 687.7 L1248.8 690.2 L1249.7 700.3 L1243.8 705.4" stroke-width="2.4" fill="none" />
<path d="M1230.3 701.2 L1245.5 693.6" stroke-width="2.1" fill="none" />
<path d="M1235.3 593.6 C1236.4 595.9 1240.3 602.6 1241.4 607.1 C1242.5 611.6 1242.6 616 1242.1 620.5 C1241.5 625 1240.6 627.4 1238 634 C1235.5 640.6 1228.5 655.7 1226.6 660" stroke-width="4.6" fill="none" />
<path d="M1246.8 603.7 C1247 606 1248.5 613.2 1248.3 617.2 C1248 621.1 1246.2 623.9 1245.1 627.2 C1244 630.6 1243.5 631.9 1241.4 637.3 C1239.3 642.8 1234.1 656.2 1232.7 660" stroke-width="2.6" fill="none" />
<path d="M1282.4 619.2 C1282.9 621.1 1284.8 626.5 1285.1 630.6 C1285.5 634.8 1285.1 639.2 1284.6 644.1 C1284 649 1282.3 657.3 1281.9 660" stroke-width="7.4" fill="none" />
<path d="M1273.7 599 C1274.4 600.6 1276.3 605.1 1277.7 608.4 C1279.2 611.8 1281.6 617.4 1282.4 619.2" stroke-width="4.2" fill="none" />
<path d="M1281.8 660 L1280.5 668" stroke-width="4.5" fill="none" />
<ellipse cx="1244.1" cy="497.7" rx="2.4" ry="3.7" transform="rotate(-30 1244.1 497.7)" stroke-width="3.4" fill="#000"/>
<ellipse cx="1297.6" cy="580.1" rx="4.4" ry="6.4" transform="rotate(-15 1297.6 580.1)" stroke-width="4.2" fill="none"/>
<path d="M1538.8 763.5 L1540.5 789.4" stroke-width="5" fill="none" />
</g>
<g id="bracket4">
<path d="M353.5 983.6 C357.7 982.4 382.8 985 388 984.5 C393.3 984.1 404.2 979.1 406.2 979.1 C408.2 979.1 406.5 983.4 408 984.5 C409.4 985.6 418.7 988.9 420.7 990 C422.7 991 425.6 994.6 428 995.4 C430.3 996.2 441.4 998.3 444.3 998.1 C447.2 997.9 454.3 993.5 457 993.6 C459.7 993.7 467.7 997.4 471.5 999 C475.3 1000.7 491.8 1007.8 495.1 1009.9 C498.4 1012 499.7 1016.3 504.2 1020 C508.8 1023.7 533.3 1040.6 540.5 1046.6 C547.8 1052.7 570.8 1073.8 576.9 1080.5 C582.9 1087.3 596.7 1107.9 601.1 1114.5 C605.5 1121 617.3 1140.9 620.5 1145.9 C623.6 1151 630.6 1161 632.6 1165.3 C634.5 1169.7 638.6 1184.7 639.8 1189.5 C641.1 1194.4 644.6 1210.1 644.7 1213.8 C644.8 1217.4 641.4 1223.4 641.1 1225.9 C640.7 1228.3 640.6 1236.2 641.1 1238 C641.5 1239.7 644.9 1242.5 645.2 1243.3 C645.4 1244.1 645.2 1244.8 643.5 1246.4 C641.7 1248.1 630.3 1257.5 627.7 1259.8 C625.2 1262.1 619.6 1266.5 618 1269.5 C616.5 1272.4 612.6 1284.5 612 1288.8 C611.4 1293.2 611.1 1309.4 612 1313 C612.8 1316.7 618.7 1323.7 620.5 1325.2 C622.3 1326.6 628.2 1327.8 630.2 1327.6 C632.1 1327.3 638.2 1323.1 639.8 1322.7 C641.4 1322.4 645.7 1323 646.1 1323.9 C646.6 1324.9 648.8 1329.3 644.7 1332.4 C640.5 1335.6 609.6 1353.3 604.7 1355.4 C599.9 1357.6 598.6 1355.3 596.3 1354.2 C594 1353.1 584 1346.7 581.7 1344.5 C579.4 1342.4 574 1335.8 573.2 1332.4 C572.5 1329 575.2 1314.5 574.5 1310.6 C573.7 1306.8 566.7 1297.3 566 1293.7 C565.3 1290 566.1 1280.1 567.2 1274.3 C568.3 1268.5 575.3 1240.9 576.9 1235.5 C578.4 1230.2 582.4 1224.2 582.9 1221 C583.4 1217.9 582.3 1207.7 581.7 1204.1 C581.1 1200.4 578.6 1188.1 576.9 1184.7 C575.2 1181.3 568.4 1174.5 564.8 1170.2 C561.1 1165.8 545.4 1146.7 540.5 1141.1 C535.7 1135.5 520.9 1118.8 516.3 1114.5 C511.8 1110.1 499.1 1101.4 495.1 1098 C491.2 1094.5 480.4 1082.5 477 1079.8 C473.5 1077.1 463.2 1072 460.6 1070.7 C458.1 1069.5 454.8 1066.3 451.6 1067.1 C448.3 1067.9 431.4 1076.6 428 1078.9 C424.5 1081.2 420 1088.6 417.1 1089.8 C414.2 1091 401.9 1090.8 398.9 1090.7 C395.9 1090.6 388.3 1087.6 387.1 1088.9 C385.9 1090.2 389 1100.7 387.1 1103.4 C385.2 1106.1 370.9 1113.6 368.1 1116.1 C365.2 1118.6 360.5 1125.7 359 1128.8 C357.4 1131.9 353.2 1143.3 352.6 1147 C352.1 1150.6 352.7 1161.9 353.5 1165.1 C354.3 1168.3 359.2 1176.8 360.8 1178.7 C362.4 1180.6 367.7 1184.1 369.9 1184.2 C372 1184.3 380.8 1180 382.6 1179.6 C384.3 1179.3 387 1179.7 387.5 1180.5 C387.9 1181.4 390.1 1185.5 387.1 1187.8 C384.1 1190.1 361.6 1200.9 357.2 1203.2 C352.7 1205.6 345.7 1211.4 342.6 1211.4 C339.6 1211.4 329.4 1205.3 326.3 1203.2 C323.2 1201.2 313 1194 311.8 1190.5 C310.6 1187.1 315 1172.4 314.5 1168.7 C314.1 1165.1 308 1158 307.2 1154.2 C306.5 1150.4 306.8 1134.6 307.2 1130.6 C307.7 1126.6 310.6 1119 311.8 1114.3 C313 1109.6 317.9 1089.8 319 1083.4 C320.2 1077.1 322.8 1056.7 323.6 1050.8 C324.4 1044.9 325.7 1028.1 327.2 1024.4 C328.8 1020.8 337.1 1017.3 339 1014.5 C340.9 1011.6 344.8 999.4 346.3 996.3 C347.7 993.2 349.4 984.8 353.5 983.6Z" stroke-width="3.9" fill="#fdfefc" />
<path d="M363.5 1019 L373.5 1001.7 L384.4 990.9 L383.5 1009" stroke-width="3" fill="none" />
<path d="M363.5 1108.8 L386.2 1089.2 L375.3 1087.1" stroke-width="3" fill="none" />
<path d="M378.9 1058.9 L397.1 1088.9" stroke-width="2.6" fill="none" />
<path d="M415.2 1070.7 L427 1078.4" stroke-width="2.6" fill="none" />
<path d="M444.3 1009 C443.2 1011.4 439.3 1018.5 437.9 1023.5 C436.6 1028.5 436.4 1036.4 436.1 1039" stroke-width="3" fill="none" />
<path d="M441.6 1052.6 C442.6 1054.1 446.2 1059.3 447.9 1061.7 C449.6 1064 451.3 1065.9 451.9 1066.7" stroke-width="2.8" fill="none" />
<path d="M394.4 991.8 L444.3 1008.6 L449.7 1002.7 L456.6 994.5" stroke-width="3" fill="none" />
<path d="M391.7 987.2 L406.2 989 L447.9 1003.6" stroke-width="2.6" fill="none" />
<path d="M398.9 983.6 L408 990 L417.1 989" stroke-width="3.4" fill="none" />
<path d="M356.3 1186.9 L356.3 1203.2" stroke-width="1.8" fill="none" />
<ellipse cx="355.3" cy="996.3" rx="4.9" ry="4.7" transform="rotate(0 355.3 996.3)" stroke-width="3" fill="none"/>
<ellipse cx="353.5" cy="1038.1" rx="6.9" ry="6.6" transform="rotate(0 353.5 1038.1)" stroke-width="3" fill="none"/>
<ellipse cx="337.6" cy="1104.3" rx="7.3" ry="6.9" transform="rotate(0 337.6 1104.3)" stroke-width="3" fill="none"/>
<ellipse cx="330.3" cy="1185.1" rx="7.3" ry="6.9" transform="rotate(0 330.3 1185.1)" stroke-width="3" fill="none"/>
<ellipse cx="460.6" cy="1044.4" rx="7.3" ry="6.9" transform="rotate(0 460.6 1044.4)" stroke-width="3" fill="none"/>
<path d="M585.4 1178.6 L622.9 1156.8" stroke-width="2.6" fill="none" />
<path d="M596.7 1240.4 C599.9 1242 610.1 1248.8 615.6 1250.1 C621.2 1251.4 625.5 1249.2 630.2 1248.1 C634.8 1247.1 641.3 1244.7 643.5 1244" stroke-width="2.8" fill="none" />
<ellipse cx="589" cy="1239.2" rx="7" ry="7" transform="rotate(0 589 1239.2)" stroke-width="3" fill="none"/>
<ellipse cx="590.2" cy="1327.1" rx="7" ry="7" transform="rotate(0 590.2 1327.1)" stroke-width="3" fill="none"/>
</g>
<g id="nuts">
<path d="M280.1 1012.7 C281.5 1011.5 288.3 1008.8 290.1 1008.2 C291.9 1007.6 296 1007.1 297.3 1007 C298.6 1006.9 301 1006.3 302.3 1007.2 C303.7 1008.1 309 1013.9 310.1 1015.4 C311.2 1017 312.1 1019.7 312.3 1021.6 C312.5 1023.4 312.6 1030.9 312.2 1032.7 C311.8 1034.4 309.8 1037.2 308.4 1038.2 C307.1 1039.2 301.8 1041.6 299.5 1042.1 C297.3 1042.6 289.3 1043.8 287.3 1043.2 C285.3 1042.7 281.8 1038.8 280.7 1037.1 C279.5 1035.4 276.7 1029 276.3 1027.1 C275.9 1025.2 276.5 1020.9 276.9 1019.3 C277.3 1017.8 278.7 1013.9 280.1 1012.7Z" stroke-width="3.4" fill="#fdfefc" />
<path d="M291.2 1010.2 C292 1011.2 294.6 1014 295.9 1016.3 C297.2 1018.5 298.3 1021.2 299.1 1023.8 C299.9 1026.3 300.4 1028.9 300.7 1031.6 C300.9 1034.2 300.5 1038.3 300.4 1039.6" stroke-width="3.4" fill="none" />
<ellipse cx="288.4" cy="1028.1" rx="5.6" ry="6.9" transform="rotate(-22 288.4 1028.1)" stroke-width="3.3" fill="none"/>
<path d="M300.2 1027.7 L311.9 1025.2" stroke-width="2.6" fill="none" />
<path d="M302.1 1030.6 L302.4 1036.8" stroke-width="2.2" fill="none" />
<path d="M268.8 1086.1 C270.2 1084.9 277 1082.2 278.8 1081.6 C280.6 1081 284.7 1080.5 286 1080.4 C287.3 1080.3 289.7 1079.7 291 1080.6 C292.4 1081.5 297.7 1087.3 298.8 1088.8 C299.9 1090.4 300.8 1093.1 301 1095 C301.2 1096.8 301.3 1104.3 300.9 1106.1 C300.5 1107.8 298.5 1110.6 297.1 1111.6 C295.8 1112.6 290.5 1115 288.2 1115.5 C286 1116 278 1117.2 276 1116.6 C274 1116.1 270.5 1112.2 269.4 1110.5 C268.2 1108.8 265.4 1102.4 265 1100.5 C264.6 1098.6 265.2 1094.3 265.6 1092.7 C266 1091.2 267.4 1087.3 268.8 1086.1Z" stroke-width="3.4" fill="#fdfefc" />
<path d="M279.9 1083.6 C280.7 1084.6 283.3 1087.4 284.6 1089.7 C285.9 1091.9 287 1094.6 287.8 1097.2 C288.6 1099.7 289.1 1102.3 289.4 1105 C289.6 1107.6 289.2 1111.7 289.1 1113" stroke-width="3.4" fill="none" />
<ellipse cx="277.1" cy="1101.5" rx="5.6" ry="6.9" transform="rotate(-22 277.1 1101.5)" stroke-width="3.3" fill="none"/>
<path d="M288.9 1101.1 L300.6 1098.6" stroke-width="2.6" fill="none" />
<path d="M290.8 1104 L291.1 1110.2" stroke-width="2.2" fill="none" />
<path d="M193.4 1110.1 C194.8 1108.9 201.6 1106.2 203.4 1105.6 C205.2 1105 209.3 1104.5 210.6 1104.4 C211.9 1104.3 214.3 1103.7 215.6 1104.6 C217 1105.5 222.3 1111.3 223.4 1112.8 C224.5 1114.4 225.4 1117.1 225.6 1119 C225.8 1120.8 225.9 1128.3 225.5 1130.1 C225.1 1131.8 223.1 1134.6 221.7 1135.6 C220.4 1136.6 215.1 1139 212.8 1139.5 C210.6 1140 202.6 1141.2 200.6 1140.6 C198.6 1140.1 195.1 1136.2 194 1134.5 C192.8 1132.8 190 1126.4 189.6 1124.5 C189.2 1122.6 189.8 1118.3 190.2 1116.7 C190.6 1115.2 192 1111.3 193.4 1110.1Z" stroke-width="3.4" fill="#fdfefc" />
<path d="M204.5 1107.6 C205.3 1108.6 207.9 1111.4 209.2 1113.7 C210.5 1115.9 211.6 1118.6 212.4 1121.2 C213.2 1123.7 213.7 1126.3 214 1129 C214.2 1131.6 213.8 1135.7 213.7 1137" stroke-width="3.4" fill="none" />
<ellipse cx="201.7" cy="1125.5" rx="5.6" ry="6.9" transform="rotate(-22 201.7 1125.5)" stroke-width="3.3" fill="none"/>
<path d="M213.5 1125.1 L225.2 1122.6" stroke-width="2.6" fill="none" />
<path d="M215.4 1128 L215.7 1134.2" stroke-width="2.2" fill="none" />
<path d="M270.3 1178.2 C271.7 1177 278.5 1174.3 280.3 1173.7 C282.1 1173.1 286.2 1172.6 287.5 1172.5 C288.8 1172.4 291.2 1171.8 292.5 1172.7 C293.9 1173.6 299.2 1179.4 300.3 1180.9 C301.4 1182.5 302.3 1185.2 302.5 1187.1 C302.7 1188.9 302.8 1196.4 302.4 1198.2 C302 1199.9 300 1202.7 298.6 1203.7 C297.3 1204.7 292 1207.1 289.7 1207.6 C287.5 1208.1 279.5 1209.3 277.5 1208.7 C275.5 1208.2 272 1204.3 270.9 1202.6 C269.7 1200.9 266.9 1194.5 266.5 1192.6 C266.1 1190.7 266.7 1186.4 267.1 1184.8 C267.5 1183.3 268.9 1179.4 270.3 1178.2Z" stroke-width="3.4" fill="#fdfefc" />
<path d="M281.4 1175.7 C282.2 1176.7 284.8 1179.5 286.1 1181.8 C287.4 1184 288.5 1186.7 289.3 1189.3 C290.1 1191.8 290.6 1194.4 290.9 1197.1 C291.1 1199.7 290.7 1203.8 290.6 1205.1" stroke-width="3.4" fill="none" />
<ellipse cx="278.6" cy="1193.6" rx="5.6" ry="6.9" transform="rotate(-22 278.6 1193.6)" stroke-width="3.3" fill="none"/>
<path d="M290.4 1193.2 L302.1 1190.7" stroke-width="2.6" fill="none" />
<path d="M292.3 1196.1 L292.6 1202.3" stroke-width="2.2" fill="none" />
<path d="M527.4 1229 C528.8 1227.8 535.6 1225.1 537.4 1224.5 C539.2 1223.9 543.3 1223.4 544.6 1223.3 C545.9 1223.2 548.3 1222.6 549.6 1223.5 C551 1224.4 556.3 1230.2 557.4 1231.7 C558.5 1233.3 559.4 1236 559.6 1237.9 C559.8 1239.7 559.9 1247.2 559.5 1249 C559.1 1250.7 557.1 1253.5 555.7 1254.5 C554.4 1255.5 549.1 1257.9 546.8 1258.4 C544.6 1258.9 536.6 1260.1 534.6 1259.5 C532.6 1259 529.1 1255.1 528 1253.4 C526.8 1251.7 524 1245.3 523.6 1243.4 C523.2 1241.5 523.8 1237.2 524.2 1235.6 C524.6 1234.1 526 1230.2 527.4 1229Z" stroke-width="3.4" fill="#fdfefc" />
<path d="M538.5 1226.5 C539.3 1227.5 541.9 1230.3 543.2 1232.6 C544.5 1234.8 545.6 1237.5 546.4 1240.1 C547.2 1242.6 547.7 1245.2 548 1247.9 C548.2 1250.5 547.8 1254.6 547.7 1255.9" stroke-width="3.4" fill="none" />
<ellipse cx="535.7" cy="1244.4" rx="5.6" ry="6.9" transform="rotate(-22 535.7 1244.4)" stroke-width="3.3" fill="none"/>
<path d="M547.5 1244 L559.2 1241.5" stroke-width="2.6" fill="none" />
<path d="M549.4 1246.9 L549.7 1253.1" stroke-width="2.2" fill="none" />
<path d="M527.4 1325.9 C528.8 1324.7 535.6 1322 537.4 1321.4 C539.2 1320.8 543.3 1320.3 544.6 1320.2 C545.9 1320.1 548.3 1319.5 549.6 1320.4 C551 1321.3 556.3 1327.1 557.4 1328.6 C558.5 1330.2 559.4 1332.9 559.6 1334.8 C559.8 1336.6 559.9 1344.1 559.5 1345.9 C559.1 1347.6 557.1 1350.4 555.7 1351.4 C554.4 1352.4 549.1 1354.8 546.8 1355.3 C544.6 1355.8 536.6 1357 534.6 1356.4 C532.6 1355.9 529.1 1352 528 1350.3 C526.8 1348.6 524 1342.2 523.6 1340.3 C523.2 1338.4 523.8 1334.1 524.2 1332.5 C524.6 1331 526 1327.1 527.4 1325.9Z" stroke-width="3.4" fill="#fdfefc" />
<path d="M538.5 1323.4 C539.3 1324.4 541.9 1327.2 543.2 1329.5 C544.5 1331.7 545.6 1334.4 546.4 1337 C547.2 1339.5 547.7 1342.1 548 1344.8 C548.2 1347.4 547.8 1351.5 547.7 1352.8" stroke-width="3.4" fill="none" />
<ellipse cx="535.7" cy="1341.3" rx="5.6" ry="6.9" transform="rotate(-22 535.7 1341.3)" stroke-width="3.3" fill="none"/>
<path d="M547.5 1340.9 L559.2 1338.4" stroke-width="2.6" fill="none" />
<path d="M549.4 1343.8 L549.7 1350" stroke-width="2.2" fill="none" />
</g>
<g id="logo">
<text transform="translate(1640 1472) scale(1.17 1)" font-size="34.5" style="font-family:'Liberation Serif',serif"><tspan style="fill:#4468b8">m</tspan><tspan style="fill:#58b848">o</tspan><tspan style="fill:#f068b0">t</tspan><tspan style="fill:#28a048">o</tspan><tspan style="fill:#e8502c">r</tspan><tspan style="fill:#f09a20">u</tspan><tspan style="fill:#f0c820">f</tspan></text>
<text transform="translate(1769 1472) scale(1.22 1)" font-size="13.5" style="font-family:'Liberation Serif',serif;fill:#3a3a28">.de</text>
<circle cx="1773.5" cy="1447" r="0.8" fill="#99a" style="stroke:none"/>
</g>
</svg>
</body></html>
